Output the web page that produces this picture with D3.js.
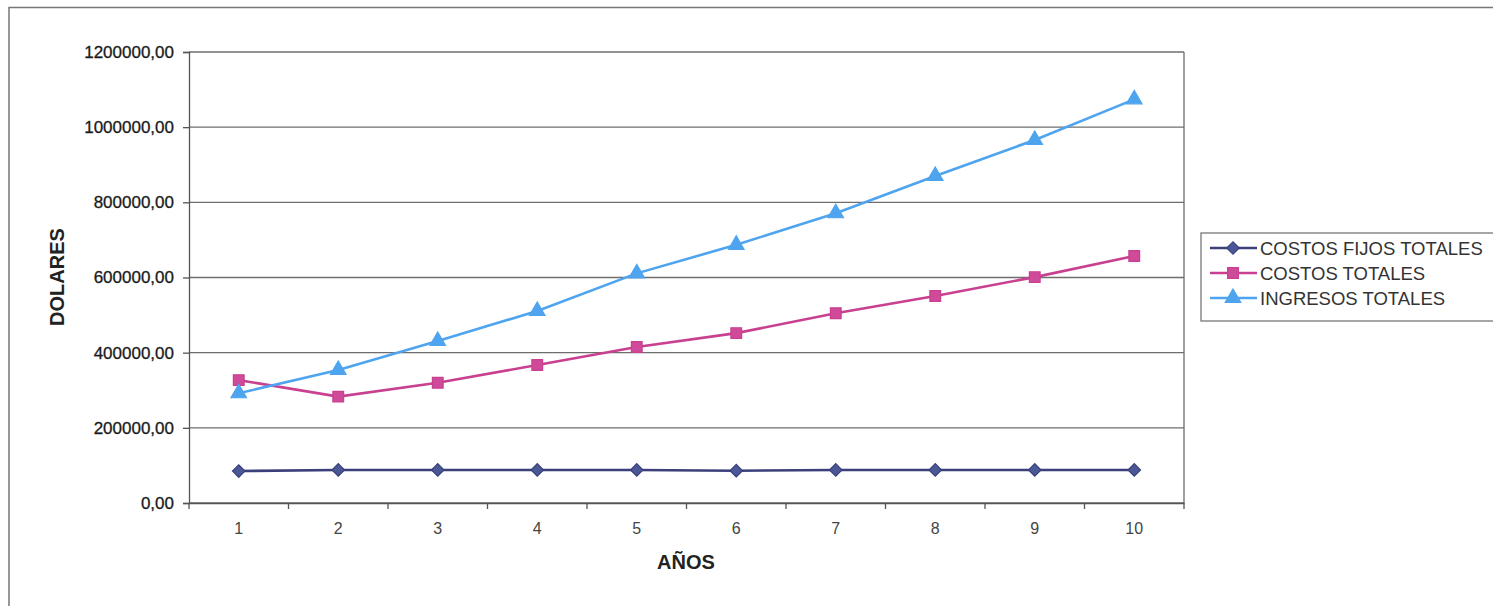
<!DOCTYPE html>
<html><head><meta charset="utf-8">
<script src="https://cdn.jsdelivr.net/npm/d3@7"></script>
<style>body{margin:0;background:#fff}svg{display:block}</style>
</head><body>
<svg id="c" width="1493" height="606"></svg>
<script>
const years = ["1","2","3","4","5","6","7","8","9","10"];
const costosFijos = [85000, 88000, 88000, 88000, 88000, 86000, 88000, 88000, 88000, 88000];
const costosTotales = [327000, 283000, 320000, 367000, 415000, 452000, 505000, 551000, 601000, 657000];
const ingresosTotales = [292000, 354000, 431000, 511000, 611000, 687000, 771000, 870000, 966000, 1074000];
const yTicks = [0, 200000, 400000, 600000, 800000, 1000000, 1200000];
const seriesNames = ["COSTOS FIJOS TOTALES", "COSTOS TOTALES", "INGRESOS TOTALES"];

const series = [
  {name: seriesNames[0], values: costosFijos, color: "#3b3f7a", fill: "#4b5896", marker: "diamond"},
  {name: seriesNames[1], values: costosTotales, color: "#c8408f", fill: "#cf4a99", marker: "square"},
  {name: seriesNames[2], values: ingresosTotales, color: "#4ea4ee", fill: "#4ea4ee", marker: "triangle"}
];

const svg = d3.select("#c");
const font = "'Liberation Sans', Arial, sans-serif";
const L = 189, R = 1184, T = 52, B = 503;

// outer border
svg.append("rect").attr("x", 9).attr("y", 7.5).attr("width", 1500).attr("height", 620)
  .attr("fill", "none").attr("stroke", "#777").attr("stroke-width", 1.5);

const x = d3.scaleBand().domain(years).range([L, R]).padding(0);
const y = d3.scaleLinear().domain([0, 1200000]).range([B, T]);

// gridlines
svg.append("g").selectAll("line").data(yTicks).join("line")
  .attr("x1", L).attr("x2", R).attr("y1", d => y(d)).attr("y2", d => y(d))
  .attr("stroke", "#6e6e6e").attr("stroke-width", 1.3);
// right border
svg.append("line").attr("x1", R).attr("x2", R).attr("y1", T).attr("y2", B)
  .attr("stroke", "#6e6e6e").attr("stroke-width", 1.3);

const fmt = d => d3.format(".2f")(d).replace(".", ",");
const yAxis = svg.append("g").attr("transform", `translate(${L},0)`)
  .call(d3.axisLeft(y).tickValues(yTicks).tickFormat(fmt).tickSize(6).tickPadding(9));
yAxis.select(".domain").attr("stroke", "#555").attr("stroke-width", 1.3);
yAxis.selectAll(".tick line").attr("stroke", "#555").attr("stroke-width", 1.3);
yAxis.selectAll("text").attr("font-family", font).attr("font-size", 17).attr("fill", "#1a1a1a")
  .attr("stroke", "#1a1a1a").attr("stroke-width", 0.3);

const xAxis = svg.append("g").attr("transform", `translate(0,${B})`)
  .call(d3.axisBottom(x).tickSize(0).tickPadding(20));
xAxis.select(".domain").attr("stroke", "#555").attr("stroke-width", 1.3);
xAxis.selectAll("text").attr("font-family", font).attr("font-size", 16).attr("fill", "#444");
// category boundary ticks
const bounds = years.map(d => x(d)).concat([R]);
svg.append("g").selectAll("line").data(bounds).join("line")
  .attr("x1", d => d).attr("x2", d => d).attr("y1", B).attr("y2", B + 6)
  .attr("stroke", "#555").attr("stroke-width", 1.3);

// axis titles
svg.append("text").attr("x", 686).attr("y", 569).attr("text-anchor", "middle")
  .attr("font-family", font).attr("font-weight", "bold").attr("font-size", 20).attr("fill", "#222").text("AÑOS");
svg.append("text").attr("transform", "translate(64,277) rotate(-90)").attr("text-anchor", "middle")
  .attr("font-family", font).attr("font-weight", "bold").attr("font-size", 20).attr("fill", "#222").text("DOLARES");

const cx = i => x(years[i]) + x.bandwidth() / 2;
const symbols = {
  diamond: d3.symbol().type(d3.symbolSquare).size(78),
  square: d3.symbol().type(d3.symbolSquare).size(115),
  triangle: d3.symbol().type(d3.symbolTriangle).size(105)
};
const rot = m => m === "diamond" ? " rotate(45)" : "";

const line = d3.line().x((d, i) => cx(i)).y(d => y(d));
series.forEach(s => {
  svg.append("path").datum(s.values).attr("d", line).attr("fill", "none")
    .attr("stroke", s.color).attr("stroke-width", 2.6);
  svg.append("g").selectAll("path").data(s.values).join("path")
    .attr("transform", (d, i) => `translate(${cx(i)},${y(d)})` + rot(s.marker))
    .attr("d", symbols[s.marker]())
    .attr("fill", s.fill).attr("stroke", s.color).attr("stroke-width", 1.2);
});

// legend
const lg = svg.append("g");
lg.append("rect").attr("x", 1201).attr("y", 233).attr("width", 320).attr("height", 88)
  .attr("fill", "#fff").attr("stroke", "#777").attr("stroke-width", 1.3);
series.forEach((s, i) => {
  const yy = 248 + i * 25;
  lg.append("line").attr("x1", 1210).attr("x2", 1257).attr("y1", yy).attr("y2", yy)
    .attr("stroke", s.color).attr("stroke-width", 2.6);
  lg.append("path").attr("transform", `translate(1233,${yy})` + rot(s.marker)).attr("d", symbols[s.marker]())
    .attr("fill", s.fill).attr("stroke", s.color).attr("stroke-width", 1.2);
  lg.append("text").attr("x", 1260).attr("y", yy + 6.5).attr("font-family", font)
    .attr("font-size", 18.5).attr("fill", "#333").text(s.name);
});
</script>
</body></html>
